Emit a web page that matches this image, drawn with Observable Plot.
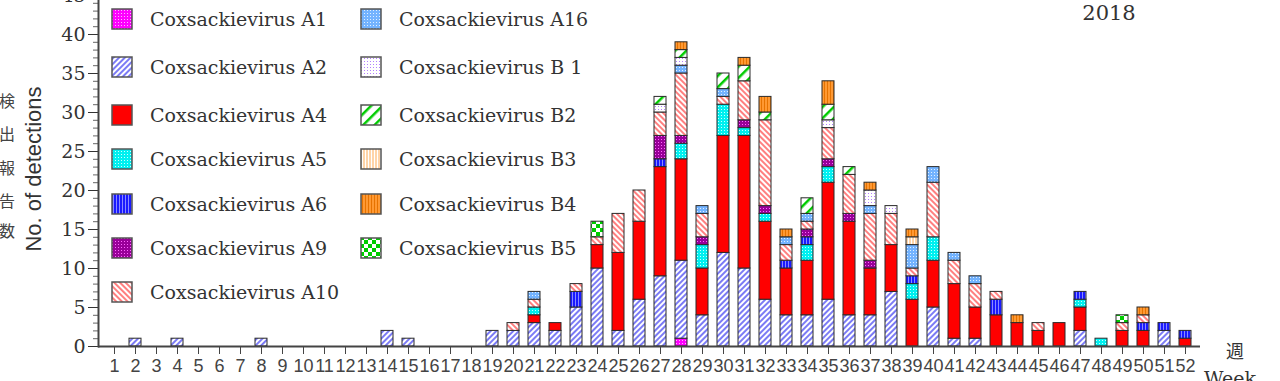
<!DOCTYPE html>
<html><head><meta charset="utf-8">
<script src="https://cdn.jsdelivr.net/npm/d3@7"></script>
<script src="https://cdn.jsdelivr.net/npm/@observablehq/plot@0.6"></script>
<style>
html,body{margin:0;padding:0;background:#fff;overflow:hidden;}
#wrap{position:relative;width:1280px;height:381px;overflow:hidden;}
#wrap svg{position:absolute;left:0;top:0;}
</style></head><body>
<svg width="0" height="0" style="position:absolute">
<defs>
<pattern id="pA1" width="3" height="3" patternUnits="userSpaceOnUse"><rect width="3" height="3" fill="#ff00ff"/><rect x="1" y="1" width="1" height="1" fill="#ffb3ff"/></pattern>
<pattern id="pA2" width="4" height="4" patternUnits="userSpaceOnUse" patternTransform="rotate(45)"><rect width="4" height="4" fill="#ffffff"/><rect width="2" height="4" fill="#7b7bf5"/></pattern>
<pattern id="pA5" width="3" height="3" patternUnits="userSpaceOnUse"><rect width="3" height="3" fill="#00f0f0"/><rect x="1" y="1" width="1" height="1" fill="#c8ffff"/></pattern>
<pattern id="pA6" width="3" height="3" patternUnits="userSpaceOnUse"><rect width="3" height="3" fill="#1a1aff"/><rect x="2" width="1" height="3" fill="#8a8aff"/></pattern>
<pattern id="pA9" width="3" height="3" patternUnits="userSpaceOnUse"><rect width="3" height="3" fill="#990099"/><rect x="1" y="1" width="1" height="1" fill="#ff66ff"/></pattern>
<pattern id="pA10" width="4" height="4" patternUnits="userSpaceOnUse" patternTransform="rotate(-45)"><rect width="4" height="4" fill="#ffffff"/><rect width="2" height="4" fill="#ff8080"/></pattern>
<pattern id="pA16" width="3" height="3" patternUnits="userSpaceOnUse"><rect width="3" height="3" fill="#73b3ff"/><rect x="1" y="1" width="1" height="1" fill="#e0f0ff"/></pattern>
<pattern id="pB1" width="3" height="3" patternUnits="userSpaceOnUse"><rect width="3" height="3" fill="#ffffff"/><rect x="1" y="1" width="1" height="1" fill="#b380ff"/></pattern>
<pattern id="pB2" width="8" height="8" patternUnits="userSpaceOnUse" patternTransform="rotate(45)"><rect width="8" height="8" fill="#ffffff"/><rect width="2.5" height="8" fill="#00cc00"/></pattern>
<pattern id="pB3" width="3" height="3" patternUnits="userSpaceOnUse"><rect width="3" height="3" fill="#ffd4a8"/><rect x="2" width="1" height="3" fill="#ffffff"/></pattern>
<pattern id="pB4" width="3" height="3" patternUnits="userSpaceOnUse"><rect width="3" height="3" fill="#ff9933"/><rect x="2" width="1" height="3" fill="#e67300"/></pattern>
<pattern id="pB5" width="8" height="8" patternUnits="userSpaceOnUse"><rect width="8" height="8" fill="#00cc00"/><rect width="4" height="4" fill="#ffffff"/><rect x="4" y="4" width="4" height="4" fill="#ffffff"/></pattern>
</defs>
</svg>
<div id="wrap"></div>
<script>
const weeks = d3.range(1, 53);
const seriesNames = [
  "Coxsackievirus A1", "Coxsackievirus A2", "Coxsackievirus A4", "Coxsackievirus A5",
  "Coxsackievirus A6", "Coxsackievirus A9", "Coxsackievirus A10", "Coxsackievirus A16",
  "Coxsackievirus B 1", "Coxsackievirus B2", "Coxsackievirus B3", "Coxsackievirus B4",
  "Coxsackievirus B5"
];
//            weeks 1-10             11-20                  21-30                     31-40                     41-50                 51-52
const A1  = [0,0,0,0,0,0,0,0,0,0, 0,0,0,0,0,0,0,0,0,0, 0,0,0,0,0,0,0,1,0,0, 0,0,0,0,0,0,0,0,0,0, 0,0,0,0,0,0,0,0,0,0, 0,0];
const A2  = [0,1,0,1,0,0,0,1,0,0, 0,0,0,2,1,0,0,0,2,2, 3,2,5,10,2,6,9,10,4,12, 10,6,4,4,6,4,4,7,0,5, 1,1,0,0,0,0,2,0,0,0, 2,0];
const A4  = [0,0,0,0,0,0,0,0,0,0, 0,0,0,0,0,0,0,0,0,0, 1,1,0,3,10,10,14,13,6,15, 17,10,6,7,15,12,6,6,6,6, 7,4,4,3,2,3,3,0,2,2, 0,1];
const A5  = [0,0,0,0,0,0,0,0,0,0, 0,0,0,0,0,0,0,0,0,0, 1,0,0,0,0,0,0,2,3,4, 1,1,0,2,2,0,0,0,2,3, 0,0,0,0,0,0,1,1,0,0, 0,0];
const A6  = [0,0,0,0,0,0,0,0,0,0, 0,0,0,0,0,0,0,0,0,0, 0,0,2,0,0,0,1,0,0,0, 0,0,1,1,0,0,0,0,1,0, 0,0,2,0,0,0,1,0,0,1, 1,1];
const A9  = [0,0,0,0,0,0,0,0,0,0, 0,0,0,0,0,0,0,0,0,0, 0,0,0,0,0,0,3,1,1,0, 1,1,0,1,1,1,1,0,0,0, 0,0,0,0,0,0,0,0,0,0, 0,0];
const A10 = [0,0,0,0,0,0,0,0,0,0, 0,0,0,0,0,0,0,0,0,1, 1,0,1,1,5,4,3,8,3,1, 5,11,2,1,4,5,6,4,1,7, 3,3,1,0,1,0,0,0,1,1, 0,0];
const A16 = [0,0,0,0,0,0,0,0,0,0, 0,0,0,0,0,0,0,0,0,0, 1,0,0,0,0,0,0,1,1,1, 0,0,1,1,0,0,1,0,3,2, 1,1,0,0,0,0,0,0,0,0, 0,0];
const B1  = [0,0,0,0,0,0,0,0,0,0, 0,0,0,0,0,0,0,0,0,0, 0,0,0,0,0,0,1,1,0,0, 0,0,0,0,1,0,2,1,0,0, 0,0,0,0,0,0,0,0,0,0, 0,0];
const B2  = [0,0,0,0,0,0,0,0,0,0, 0,0,0,0,0,0,0,0,0,0, 0,0,0,0,0,0,1,1,0,2, 2,1,0,2,2,1,0,0,0,0, 0,0,0,0,0,0,0,0,0,0, 0,0];
const B3  = [0,0,0,0,0,0,0,0,0,0, 0,0,0,0,0,0,0,0,0,0, 0,0,0,0,0,0,0,0,0,0, 0,0,0,0,0,0,0,0,1,0, 0,0,0,0,0,0,0,0,0,0, 0,0];
const B4  = [0,0,0,0,0,0,0,0,0,0, 0,0,0,0,0,0,0,0,0,0, 0,0,0,0,0,0,0,1,0,0, 1,2,1,0,3,0,1,0,1,0, 0,0,0,1,0,0,0,0,0,1, 0,0];
const B5  = [0,0,0,0,0,0,0,0,0,0, 0,0,0,0,0,0,0,0,0,0, 0,0,0,2,0,0,0,0,0,0, 0,0,0,0,0,0,0,0,0,0, 0,0,0,0,0,0,0,0,1,0, 0,0];
const seriesValues = [A1, A2, A4, A5, A6, A9, A10, A16, B1, B2, B3, B4, B5];
const seriesFills = ["url(#pA1)", "url(#pA2)", "#ff0000", "url(#pA5)", "url(#pA6)", "url(#pA9)",
  "url(#pA10)", "url(#pA16)", "url(#pB1)", "url(#pB2)", "url(#pB3)", "url(#pB4)", "url(#pB5)"];
const yTicks = d3.range(0, 46, 5);
const yMinorTicks = d3.range(0, 46, 1);

const rows = [];
seriesNames.forEach((s, i) => seriesValues[i].forEach((v, j) => {
  if (v > 0) rows.push({week: weeks[j], series: s, count: v});
}));

const chart = Plot.plot({
  width: 1280, height: 381,
  marginLeft: 98, marginRight: 80, marginTop: -5, marginBottom: 35,
  x: {type: "band", domain: weeks, paddingInner: 0.45, paddingOuter: 0.225, label: null},
  y: {domain: [0, 45], label: null},
  color: {type: "ordinal", domain: seriesNames, range: seriesFills},
  marks: [
    Plot.barY(rows, {x: "week", y: "count", fill: "series", stroke: "#2a2a2a", strokeWidth: 1}),
    Plot.axisY({ticks: yMinorTicks, tickSize: 5, tickFormat: () => "", color: "#666", label: null}),
    Plot.axisY({ticks: yTicks, tickSize: 10, tickPadding: 3, fontSize: 19, fontFamily: "DejaVu Serif", color: "#333", label: null}),
    Plot.axisX({tickSize: 8, tickPadding: 5, fontSize: 18, fontFamily: "Liberation Sans", color: "#444", label: null}),
    Plot.ruleY([0], {stroke: "#444", strokeWidth: 2}),
    Plot.frame({anchor: "left", stroke: "#444", strokeWidth: 2})
  ]
});
const wrap = document.getElementById("wrap");
wrap.appendChild(chart);

// overlay: legend and labels
const ov = d3.select(wrap).append("svg").attr("width", 1280).attr("height", 381)
  .style("pointer-events", "none");
const rowY = [19, 67, 115, 159, 204, 248, 292];
seriesNames.forEach((s, i) => {
  const col = i < 7 ? 0 : 1;
  const r = i < 7 ? i : i - 7;
  const sx = col === 0 ? 112 : 361;
  const tx = col === 0 ? 150 : 399;
  const cy = rowY[r];
  ov.append("rect").attr("x", sx).attr("y", cy - 10).attr("width", 20).attr("height", 20)
    .attr("fill", seriesFills[i]).attr("stroke", "#555").attr("stroke-width", 1.5);
  ov.append("text").attr("x", tx).attr("y", cy + 6.5).text(s)
    .attr("font-family", "DejaVu Serif").attr("font-size", 19).attr("fill", "#333");
});
ov.append("text").attr("x", 1109).attr("y", 20).attr("text-anchor", "middle").text("2018")
  .attr("font-family", "DejaVu Serif").attr("font-size", 21).attr("fill", "#333");
ov.append("text").attr("x", 1235).attr("y", 358).attr("text-anchor", "middle").text("週")
  .attr("font-family", "Noto Sans CJK JP").attr("font-size", 18).attr("fill", "#333");
ov.append("text").attr("x", 1230).attr("y", 385).attr("text-anchor", "middle").text("Week")
  .attr("font-family", "DejaVu Serif").attr("font-size", 19).attr("fill", "#333");
ov.append("text").attr("transform", "translate(33,169) rotate(-90)").attr("text-anchor", "middle")
  .attr("dominant-baseline", "central").text("No. of detections")
  .attr("font-family", "Liberation Sans").attr("font-size", 22).attr("fill", "#333");
const jp = ["検", "出", "報", "告", "数"];
const jpY = [100, 133, 167, 200, 230];
jp.forEach((c, i) => ov.append("text").attr("x", 7).attr("y", jpY[i]).attr("text-anchor", "middle")
  .attr("dominant-baseline", "central").text(c)
  .attr("font-family", "Noto Sans CJK JP").attr("font-size", 16).attr("fill", "#444"));
</script>
</body></html>
